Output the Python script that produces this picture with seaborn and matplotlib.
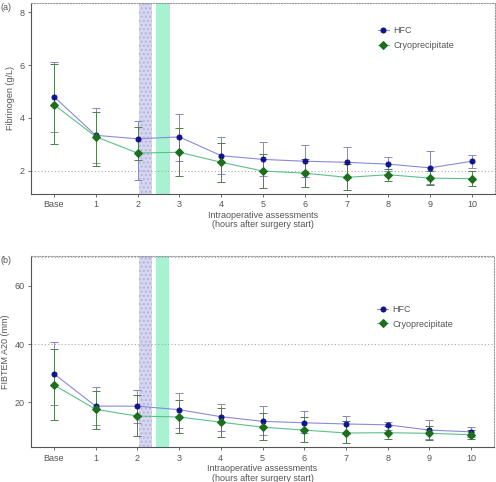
import matplotlib
matplotlib.use("Agg")
import matplotlib.pyplot as plt
import seaborn as sns
import pandas as pd

# assessments
labels = ["Base", "1", "2", "3", "4", "5", "6", "7", "8", "9", "10"]
pos = list(range(len(labels)))

# (a) fibrinogen, g/L
fib_hfc = [4.80, 3.34, 3.21, 3.28, 2.57, 2.43, 2.36, 2.32, 2.25, 2.11, 2.36]
fib_hfc_lo = [3.45, 2.30, 1.65, 2.37, 1.87, 1.80, 1.76, 1.74, 2.00, 1.48, 2.10]
fib_hfc_hi = [6.10, 4.37, 3.90, 4.16, 3.29, 3.08, 2.96, 2.90, 2.52, 2.74, 2.58]
fib_cryo = [4.50, 3.29, 2.67, 2.70, 2.32, 1.99, 1.91, 1.75, 1.85, 1.72, 1.70]
fib_cryo_lo = [3.00, 2.17, 2.40, 1.80, 1.56, 1.35, 1.38, 1.26, 1.60, 1.45, 1.41]
fib_cryo_hi = [6.05, 4.24, 3.66, 3.61, 3.04, 2.62, 2.45, 2.25, 2.05, 2.00, 2.00]

# (b) FIBTEM A20, mm
a20_hfc = [29.8, 18.7, 18.7, 17.5, 15.1, 13.5, 13.0, 12.6, 12.3, 10.5, 9.9]
a20_hfc_lo = [19.2, 12.3, 13.0, 11.3, 10.3, 8.7, 9.5, 9.0, 10.5, 7.5, 8.2]
a20_hfc_hi = [40.6, 25.1, 24.3, 23.3, 19.5, 18.7, 16.9, 15.5, 13.4, 13.9, 11.4]
a20_cryo = [26.0, 17.6, 15.3, 15.0, 13.2, 11.5, 10.5, 9.5, 9.6, 9.4, 8.9]
a20_cryo_lo = [13.9, 10.8, 8.4, 9.4, 8.0, 7.0, 6.4, 6.0, 7.3, 7.0, 7.5]
a20_cryo_hi = [38.2, 24.0, 22.4, 20.7, 18.0, 16.5, 15.0, 13.5, 12.0, 12.0, 10.5]

sns.set_style("white")
plt.rcParams["font.family"] = ["Liberation Sans", "DejaVu Sans"]

HFC_LINE, HFC_MARK, HFC_ERR = "#8a8ad8", "#12128c", "#8888bb"
CRY_LINE, CRY_MARK, CRY_ERR = "#5cc08a", "#1d6e1d", "#4f7f4f"
TXT = "#555555"


def panel(ax, hfc, hlo, hhi, cry, clo, chi, ylim, yticks, ref, ylabel, tag, leg_y):
    df = pd.DataFrame({
        "x": pos + pos,
        "y": hfc + cry,
        "group": ["HFC"] * len(pos) + ["Cryoprecipitate"] * len(pos),
    })
    ax.axvspan(2.04, 2.35, facecolor="#d6d6f2", edgecolor="#b4b4e2",
               hatch="....", lw=0, zorder=0)
    ax.axvspan(2.45, 2.77, facecolor="#a6f2d2", edgecolor="#8ee8c2",
               lw=0, zorder=0)
    ax.axhline(ref, color="#aaaaaa", ls=(0, (1, 2)), lw=0.8, zorder=0)

    ax.errorbar(pos, hfc, yerr=[[m - l for m, l in zip(hfc, hlo)],
                                [h - m for m, h in zip(hfc, hhi)]],
                fmt="none", ecolor=HFC_ERR, elinewidth=0.7, capsize=3,
                capthick=0.7, zorder=2)
    ax.errorbar(pos, cry, yerr=[[m - l for m, l in zip(cry, clo)],
                                [h - m for m, h in zip(cry, chi)]],
                fmt="none", ecolor=CRY_ERR, elinewidth=0.7, capsize=3,
                capthick=0.7, zorder=2)

    sns.lineplot(data=df[df.group == "HFC"], x="x", y="y", ax=ax,
                 color=HFC_LINE, lw=0.8, marker="o", markersize=3.6,
                 markerfacecolor=HFC_MARK, markeredgecolor=HFC_MARK,
                 label="HFC", zorder=3)
    sns.lineplot(data=df[df.group == "Cryoprecipitate"], x="x", y="y", ax=ax,
                 color=CRY_LINE, lw=0.8, marker="D", markersize=3.6,
                 markerfacecolor=CRY_MARK, markeredgecolor=CRY_MARK,
                 label="Cryoprecipitate", zorder=3)

    ax.set_xlim(-0.55, 10.55)
    ax.set_ylim(*ylim)
    ax.set_xticks(pos)
    ax.set_xticklabels(labels)
    ax.set_yticks(yticks)
    ax.tick_params(axis="both", labelsize=6.5, colors=TXT, length=2.5,
                   width=0.6, direction="out", pad=2)
    ax.tick_params(left=True, bottom=True)
    ax.set_xlabel("Intraoperative assessments\n(hours after surgery start)",
                  fontsize=6.5, color=TXT, labelpad=1, linespacing=1.1)
    ax.set_ylabel(ylabel, fontsize=6.5, color=TXT, labelpad=3)
    for s in ["left", "bottom"]:
        ax.spines[s].set_color("#555555")
        ax.spines[s].set_linewidth(0.8)
    for s in ["top", "right"]:
        ax.spines[s].set_color("#999999")
        ax.spines[s].set_linestyle((0, (1, 1.5)))
        ax.spines[s].set_linewidth(0.8)

    ax.legend(loc="upper left", bbox_to_anchor=(0.73, leg_y), frameon=False,
              fontsize=6.5, handlelength=1.2, handletextpad=0.5,
              labelspacing=0.6, labelcolor=TXT)
    ax.text(-0.066, 1.0, tag, transform=ax.transAxes, fontsize=6.5,
            color=TXT, ha="left", va="top")


fig = plt.figure(figsize=(4.96, 4.82), dpi=100)
ax1 = fig.add_axes([0.0625, 0.5975, 0.9355, 0.3963])
ax2 = fig.add_axes([0.0625, 0.072, 0.9335, 0.397])

panel(ax1, fib_hfc, fib_hfc_lo, fib_hfc_hi, fib_cryo, fib_cryo_lo, fib_cryo_hi,
      (1.12, 8.35), [2, 4, 6, 8], 2, "Fibrinogen (g/L)", "(a)", 0.92)
panel(ax2, a20_hfc, a20_hfc_lo, a20_hfc_hi, a20_cryo, a20_cryo_lo, a20_cryo_hi,
      (4.6, 70.2), [20, 40, 60], 40, "FIBTEM A20 (mm)", "(b)", 0.785)
ax2.axhline(70, color="#aaaaaa", ls=(0, (1, 2)), lw=0.8, zorder=0)

fig.savefig("out.png", dpi=100)
